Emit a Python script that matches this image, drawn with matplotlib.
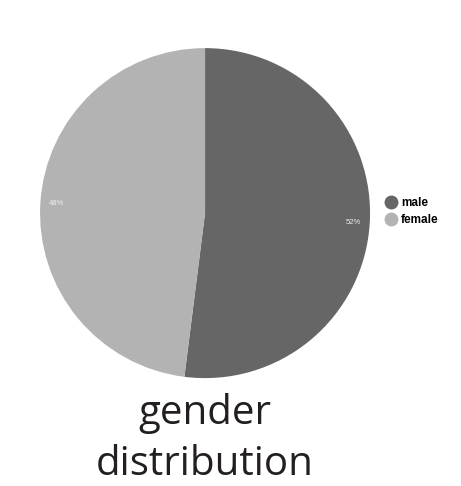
import matplotlib.pyplot as plt
from matplotlib.lines import Line2D

labels = ['male', 'female']
values = [52, 48]
colors = ['#666666', '#b3b3b3']

fig = plt.figure(figsize=(4.61, 4.86), dpi=100)
ax = fig.add_axes([0.0868, 0.222, 0.716, 0.679])
ax.pie(values, colors=colors, startangle=90, counterclock=False,
       autopct='%1.0f%%', pctdistance=0.9,
       textprops={'color': '#eeeeee', 'fontsize': 5.5, 'family': 'Liberation Sans'})
ax.set_xlim(-1, 1)
ax.set_ylim(-1, 1)
ax.set_aspect('equal')
ax.axis('off')

handles = [Line2D([], [], marker='o', linestyle='', markersize=9,
                  markerfacecolor=c, markeredgecolor=c) for c in colors]
fig.legend(handles, labels, loc='center left', bbox_to_anchor=(0.805, 0.565),
           frameon=False, handletextpad=0.05, labelspacing=0.45, handlelength=1.6,
           prop={'family': 'Liberation Sans', 'weight': 'bold', 'size': 8.5})

fig.text(0.445, 0.128, 'gender', ha='center', va='baseline',
         fontsize=29, family='Open Sans', color='#231f20')
fig.text(0.445, 0.003, 'distribution', ha='center', va='bottom',
         fontsize=29, family='Open Sans', color='#231f20')

fig.savefig('out.png', dpi=100)
